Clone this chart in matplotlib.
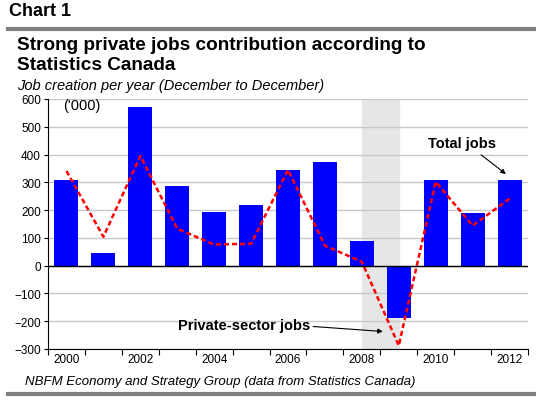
import matplotlib.pyplot as plt

plt.rcParams['font.family'] = ['Liberation Sans', 'DejaVu Sans']

years = [2000, 2001, 2002, 2003, 2004, 2005, 2006, 2007, 2008, 2009, 2010, 2011, 2012]
total_jobs = [310, 47, 572, 288, 194, 219, 345, 373, 90, -188, 310, 190, 310]
private_jobs = [341, 104, 395, 133, 76, 79, 345, 72, 14, -288, 302, 144, 241]
tick_years = [2000, 2002, 2004, 2006, 2008, 2010, 2012]

fig = plt.figure(figsize=(5.36, 4.06), dpi=100)
W, H = 536, 406

ax = fig.add_axes([48 / W, 1 - 350 / H, 480 / W, 250 / H])

# recession shading
ax.axvspan(2008, 2009, color='#e6e6e6', zorder=0)
ax.bar(years, total_jobs, width=0.65, color='#0000ff', zorder=2)
ax.plot(years, private_jobs, color='#ff0000', linestyle=(0, (2, 1.2)), linewidth=1.8, zorder=3)
ax.axhline(0, color='black', linewidth=1, zorder=4)

ax.set_xlim(1999.5, 2012.5)
ax.set_ylim(-300, 600)
ax.set_yticks(range(-300, 601, 100))
ax.yaxis.grid(True, color='#c8c8c8', linewidth=1)
ax.set_axisbelow(True)
ax.set_xticks([y + 0.5 for y in [1999] + years])
ax.set_xticklabels([])
ax.set_xticks(tick_years, minor=True)
ax.set_xticklabels([str(y) for y in tick_years], minor=True)
ax.tick_params(axis='x', which='minor', length=0, labelsize=8.5, pad=3)
ax.tick_params(axis='x', which='major', length=4, direction='out')
ax.tick_params(axis='y', length=3, labelsize=8.5, pad=2)
for s in ['top', 'right']:
    ax.spines[s].set_visible(False)

ax.text(1999.9, 578, "('000)", fontsize=10.5, va='center')

ax.text(2010.7, 442, 'Total jobs', fontsize=10.5, fontweight='bold', ha='center', va='center')
ax.annotate('', xy=(2011.9, 330), xytext=(2011.23, 399),
            arrowprops=dict(arrowstyle='-|>', color='black', lw=0.8, mutation_scale=7,
                            shrinkA=0, shrinkB=0))
ax.text(2004.8, -212, 'Private-sector jobs', fontsize=10.5, fontweight='bold',
        ha='center', va='center')
ax.annotate('', xy=(2008.57, -237), xytext=(2006.68, -219),
            arrowprops=dict(arrowstyle='-|>', color='black', lw=0.8, mutation_scale=7,
                            shrinkA=0, shrinkB=0))

fig.text(9 / W, 1 - 12 / H, 'Chart 1', fontsize=13, fontweight='bold', va='center')
fig.add_artist(plt.Line2D([8 / W, 1], [1 - 30 / H, 1 - 30 / H], color='#808080', lw=3))
fig.text(17 / W, 1 - 46 / H, 'Strong private jobs contribution according to', fontsize=13.7,
         fontweight='bold', va='center')
fig.text(17 / W, 1 - 65 / H, 'Statistics Canada', fontsize=13.7, fontweight='bold', va='center')
fig.text(17 / W, 1 - 86 / H, 'Job creation per year (December to December)', fontsize=10.5,
         style='italic', va='center')
fig.text(25 / W, 1 - 382 / H, 'NBFM Economy and Strategy Group (data from Statistics Canada)',
         fontsize=9.5, style='italic', va='center')
fig.add_artist(plt.Line2D([8 / W, 1], [1 - 395 / H, 1 - 395 / H], color='#808080', lw=3))

fig.savefig('out.png', dpi=100)
